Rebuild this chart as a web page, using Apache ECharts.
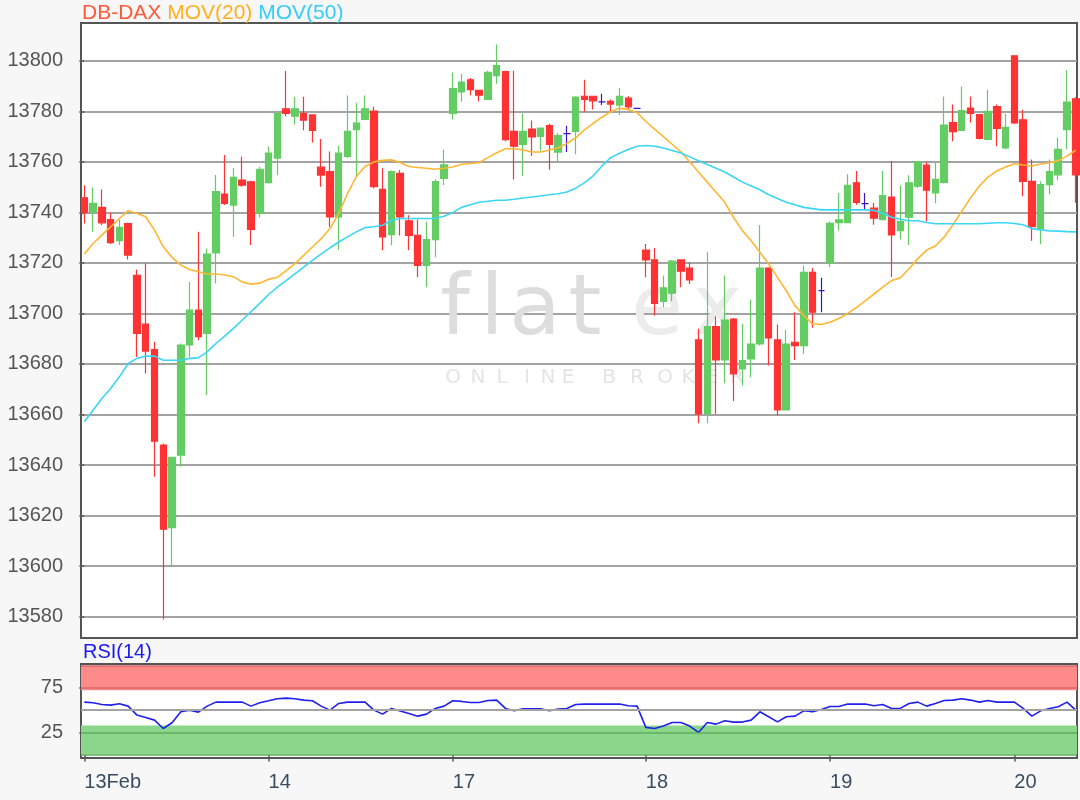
<!DOCTYPE html>
<html><head><meta charset="utf-8">
<script src="https://cdn.jsdelivr.net/npm/echarts@6.0.0/dist/echarts.min.js"></script>
<style>html,body{margin:0;padding:0;background:#f7f7f7}#c{width:1080px;height:800px}</style>
</head><body><div id="c"></div>
<script>
// ---- data ----
const dayLabels = ['13Feb','14','17','18','19','20'];
const dayStart  = [0, 21, 42, 64, 85, 106];
const priceTicks = [13580,13600,13620,13640,13660,13680,13700,13720,13740,13760,13780,13800];
const rsiTicks = [25, 75];

const opens = [13745.8,13740.3,13742.0,13737.2,13728.8,13735.6,13715.1,13695.8,13685.7,13647.9,
13615.2,13643.9,13687.5,13701.3,13692.1,13724.0,13747.3,13742.9,13752.8,13752.1,
13739.6,13751.8,13761.5,13781.0,13778.1,13779.2,13778.6,13757.9,13756.2,13738.2,
13762.2,13772.8,13776.8,13780.1,13749.1,13731.2,13755.5,13736.7,13730.9,13719.0,
13729.2,13753.5,13779.2,13787.7,13792.5,13788.3,13784.8,13794.2,13795.8,13772.1,
13766.9,13773.0,13770.1,13774.4,13763.9,13771.2,13772.1,13786.0,13786.0,13783.8,
13784.0,13782.5,13785.3,13781.2,13725.1,13721.2,13704.8,13708.0,13721.2,13718.0,
13689.5,13660.2,13694.8,13681.6,13697.8,13678.0,13682.0,13687.9,13718.0,13689.5,
13661.8,13688.6,13687.3,13716.3,13709.0,13720.0,13736.0,13736.0,13751.7,13743.5,
13741.7,13737.1,13746.1,13732.8,13738.1,13750.4,13758.7,13747.7,13751.9,13775.6,
13772.5,13781.3,13778.7,13768.9,13781.9,13765.5,13802.0,13776.7,13752.3,13733.6,
13751.0,13754.9,13772.8,13785.0];
const closes = [13740.0,13743.6,13735.9,13728.0,13734.1,13723.1,13692.1,13685.1,13649.4,13614.6,
13643.0,13687.5,13701.3,13690.8,13723.5,13748.2,13743.6,13753.9,13750.8,13733.3,
13757.1,13763.5,13779.2,13779.2,13781.0,13776.5,13772.5,13754.8,13738.2,13763.5,
13772.1,13775.4,13781.0,13750.2,13730.3,13756.2,13738.2,13730.9,13719.0,13729.2,
13752.2,13758.8,13789.0,13791.6,13788.6,13786.4,13795.5,13798.1,13768.8,13766.2,
13772.1,13769.9,13773.4,13766.9,13770.4,13771.2,13785.7,13784.8,13784.2,13783.8,
13782.9,13786.0,13781.8,13781.2,13721.2,13704.0,13710.1,13720.7,13716.7,13713.3,
13660.2,13694.8,13681.6,13697.4,13676.1,13681.3,13687.9,13718.0,13690.3,13661.8,
13687.9,13687.3,13716.3,13700.5,13709.0,13735.7,13737.1,13750.7,13744.0,13743.5,
13737.7,13746.7,13731.1,13736.4,13751.7,13760.0,13748.8,13753.1,13774.6,13772.0,
13780.3,13779.2,13769.3,13780.0,13773.3,13773.7,13775.4,13752.3,13734.4,13751.0,
13756.2,13765.0,13783.7,13754.9];
const lows = [13735.6,13732.3,13735.0,13727.5,13727.1,13721.4,13682.8,13676.2,13635.3,13578.8,
13599.7,13639.3,13682.8,13689.4,13667.7,13711.9,13742.9,13730.4,13750.2,13727.1,
13738.0,13751.5,13754.8,13778.1,13774.8,13772.5,13767.7,13750.2,13734.3,13725.2,
13761.5,13754.4,13776.8,13749.5,13725.0,13727.0,13730.9,13725.0,13714.3,13710.4,
13722.3,13750.9,13776.8,13783.8,13786.4,13784.0,13784.8,13790.9,13768.2,13753.0,
13754.5,13762.3,13764.3,13756.9,13760.0,13763.9,13763.0,13779.9,13780.8,13782.5,
13779.9,13778.6,13780.5,13781.2,13714.3,13699.2,13702.5,13704.8,13710.4,13711.7,
13656.5,13656.5,13660.2,13672.4,13665.3,13671.5,13674.7,13687.3,13679.4,13659.6,
13661.8,13681.6,13684.0,13694.3,13700.5,13718.4,13732.8,13736.0,13743.0,13741.1,
13735.1,13737.1,13714.4,13729.3,13727.1,13749.7,13736.4,13743.6,13751.5,13768.2,
13772.2,13775.6,13768.9,13768.5,13766.2,13765.0,13775.0,13746.4,13728.8,13727.5,
13747.1,13752.7,13765.0,13743.8];
const highs = [13750.8,13749.9,13749.1,13739.9,13737.2,13735.9,13717.4,13719.8,13688.8,13648.5,
13643.2,13688.1,13712.5,13732.3,13725.7,13754.8,13762.7,13757.6,13762.0,13752.5,
13758.0,13766.1,13779.4,13796.0,13785.8,13785.8,13778.6,13769.1,13764.1,13766.4,
13786.3,13783.4,13786.3,13781.8,13757.5,13756.6,13756.8,13738.9,13737.2,13736.3,
13753.1,13764.8,13795.4,13794.8,13793.2,13788.3,13796.1,13806.5,13796.1,13796.1,
13779.2,13776.4,13773.6,13775.1,13771.4,13774.3,13786.0,13792.5,13786.0,13787.0,
13784.7,13789.4,13786.0,13781.2,13727.5,13725.9,13715.0,13721.2,13721.2,13720.3,
13693.9,13724.2,13698.8,13715.0,13698.2,13695.9,13705.4,13735.0,13718.3,13695.6,
13693.5,13700.5,13718.9,13718.0,13714.1,13736.4,13747.7,13755.1,13756.4,13747.7,
13743.7,13756.4,13760.4,13750.7,13754.7,13760.3,13760.0,13760.0,13785.9,13782.7,
13789.9,13785.9,13779.0,13788.6,13782.7,13779.1,13802.0,13780.7,13761.0,13752.3,
13761.0,13769.7,13796.3,13785.6];

const ma20 = [13723.5,13727.7,13731.0,13734.3,13737.6,13740.7,13739.6,13738.3,13733.0,13726.4,
13722.2,13719.1,13717.4,13716.5,13715.6,13715.6,13715.2,13714.5,13712.5,13711.6,
13712.0,13713.5,13714.3,13717.0,13719.7,13723.0,13726.3,13729.6,13733.6,13739.6,
13747.5,13754.2,13758.2,13760.0,13760.6,13760.8,13759.8,13758.2,13757.8,13757.5,
13757.1,13757.5,13758.0,13759.1,13759.4,13759.7,13761.7,13763.6,13765.2,13765.2,
13764.7,13763.9,13763.9,13764.7,13765.6,13767.3,13769.5,13772.7,13775.3,13777.7,
13779.9,13781.2,13780.8,13779.5,13776.0,13773.0,13770.0,13767.0,13764.0,13760.0,
13756.0,13752.0,13748.0,13744.0,13738.0,13732.8,13728.8,13724.2,13719.6,13714.3,
13709.0,13703.1,13699.2,13695.9,13695.6,13696.5,13698.0,13700.0,13702.3,13705.0,
13707.7,13710.4,13713.0,13714.1,13717.7,13721.7,13725.1,13726.7,13730.2,13735.1,
13740.4,13745.7,13750.4,13754.0,13756.4,13758.0,13759.3,13758.8,13758.4,13759.2,
13759.7,13760.5,13762.3,13764.7];
const ma50 = [13657.1,13661.7,13666.3,13670.3,13674.9,13680.2,13682.2,13683.1,13683.1,13681.5,
13681.5,13681.5,13682.2,13682.4,13684.8,13688.1,13691.0,13694.1,13697.4,13700.7,
13704.0,13707.5,13710.4,13713.0,13715.7,13718.3,13721.0,13723.6,13726.0,13728.3,
13730.3,13732.3,13734.0,13734.3,13734.9,13736.9,13737.6,13737.6,13737.6,13737.6,
13737.6,13738.5,13740.0,13742.0,13743.0,13744.0,13744.4,13744.8,13744.8,13745.2,
13745.7,13746.1,13746.5,13747.0,13747.4,13748.1,13749.6,13751.7,13754.5,13758.4,
13761.7,13763.4,13764.9,13766.2,13766.5,13766.2,13765.5,13764.5,13763.5,13762.0,
13760.5,13759.0,13757.5,13756.0,13754.0,13752.0,13750.5,13749.0,13747.0,13745.5,
13744.0,13743.0,13742.0,13741.5,13741.0,13741.0,13741.0,13741.0,13741.0,13741.0,
13740.8,13739.7,13738.1,13737.3,13736.7,13736.7,13736.0,13735.5,13735.5,13735.5,
13735.5,13735.5,13735.5,13735.7,13735.9,13735.9,13735.6,13735.1,13733.6,13733.1,
13732.7,13732.6,13732.4,13732.3];
const rsi = [59,58.3,56.4,55.6,57.1,54.5,44.4,41.7,38.7,29.3,
35.7,48.1,50,47.7,54.5,59,59,59,59,54.5,
58.3,60.5,62.8,63.5,62.8,61.3,60.5,54.5,50,57.5,
59,59,59,50,45.5,51.9,48.9,46.2,43.2,45.5,
51.9,54.5,60.5,59.8,58.6,58.6,60.9,61.3,51.9,49.2,
51.5,51.5,51.5,49.2,51.1,51.9,56.4,56.8,56.8,56.8,
56.8,56.8,54.9,54.5,30.5,29.3,32,36.1,36.1,32,
24.8,36.1,34.2,38,36.5,36.5,38.7,48.1,42.5,36.8,
42.5,43.2,49.2,48.1,50.8,54.1,54.1,56.8,56.8,56.8,
54.9,56.4,51.9,51.9,57.5,59,54.5,57.5,60.9,61.3,
62.8,61.3,59,60.9,59,59,59,51.9,43.2,49.2,
51.9,53.8,59,50];

// ---- build ----
const candles = opens.map((o, i) => [i, o, closes[i], lows[i], highs[i]]);
const ma20Data = ma20.map((v, i) => [i, v]);
const ma50Data = ma50.map((v, i) => [i, v]);
const rsiData = rsi.map((v, i) => [i, v]);
const N = opens.length;
const xMin = -0.376, xMax = N - 1 + 0.14;

const chart = echarts.init(document.getElementById('c'), null, {renderer: 'canvas'});

const wmFlat = [['f',455],['l',492],['a',535],['t',585]];
const wmEx = [['e',657],['x',717]];
const wmSub = [['O',453],['N',478],['L',502],['I',527],['N',548],['E',568],['B',609],['R',637],['O',665],['K',688],['E',712],['R',737]];
const graphics = [];
wmFlat.forEach(([t, x]) => graphics.push({type:'text', z: 1, silent: true, style:{text:t, x:x, y:312, fill:'#dddddd', font:'84px "DejaVu Sans"', textAlign:'center', textVerticalAlign:'middle'}}));
wmEx.forEach(([t, x]) => graphics.push({type:'text', z: 1, silent: true, style:{text:t, x:x, y:312, fill:'#ececec', font:'84px "DejaVu Sans"', textAlign:'center', textVerticalAlign:'middle'}}));
wmSub.forEach(([t, x]) => graphics.push({type:'text', z: 1, silent: true, style:{text:t, x:x, y:378, fill:'#e4e4e4', font:'20px "DejaVu Sans"', textAlign:'center', textVerticalAlign:'middle'}}));

const option = {
  backgroundColor: '#f7f7f7',
  animation: false,
  textStyle: {fontFamily: '"Liberation Sans", Arial, sans-serif'},
  title: [
    {left: 82, top: 3, padding: 0,
     text: '{a|DB-DAX} {b|MOV(20)} {c|MOV(50)}',
     textStyle: {fontSize: 21, fontWeight: 'normal', color: '#ffb020',
       rich: {a: {color: '#ff5a38', fontSize: 21}, b: {color: '#ffb020', fontSize: 21}, c: {color: '#35cdf5', fontSize: 21}}}},
    {left: 83, top: 642, padding: 0, text: 'RSI(14)',
     textStyle: {fontSize: 20, fontWeight: 'normal', color: '#1a1aee'}}
  ],
  grid: [
    {left: 81, top: 23, right: 3, height: 615, show: true, backgroundColor: '#ffffff', borderColor: '#555555', borderWidth: 2},
    {left: 81, top: 664, right: 3, height: 94, show: true, backgroundColor: '#ffffff', borderColor: '#555555', borderWidth: 2}
  ],
  xAxis: [
    {type: 'value', gridIndex: 0, min: xMin, max: xMax, show: false},
    {type: 'value', gridIndex: 1, min: xMin, max: xMax,
     axisLine: {show: false}, splitLine: {show: false},
     axisTick: {show: true, customValues: dayStart, length: 7, lineStyle: {color: '#555', width: 1.5}},
     axisLabel: {customValues: dayStart, formatter: v => dayLabels[dayStart.indexOf(v)],
       align: 'left', margin: 14, color: '#3a4d63', fontSize: 20}}
  ],
  yAxis: [
    {type: 'value', gridIndex: 0, min: 13571.5, max: 13815,
     axisLine: {show: false},
     axisTick: {show: true, customValues: priceTicks, length: 5, lineStyle: {color: '#555', width: 1.5}},
     axisLabel: {customValues: priceTicks, formatter: v => String(v), margin: 18, color: '#555', fontSize: 20},
     splitLine: {show: true, lineStyle: {color: '#a3a3a3', width: 2}}},
    {type: 'value', gridIndex: 1, min: -4, max: 102,
     axisLine: {show: false},
     axisTick: {show: true, customValues: rsiTicks, length: 5, lineStyle: {color: '#555', width: 1.5}},
     axisLabel: {customValues: rsiTicks, formatter: v => String(v), margin: 18, color: '#555', fontSize: 20},
     splitLine: {show: false}}
  ],
  graphic: graphics,
  series: [
    {type: 'candlestick', xAxisIndex: 0, yAxisIndex: 0, data: candles,
     encode: {x: 0, y: [1, 2, 3, 4]}, barWidth: 7, clip: true, z: 3,
     itemStyle: {color: '#63cd63', color0: '#ff3333', borderColor: '#63cd63', borderColor0: '#ff3333',
       borderColorDoji: '#3a14c8', borderWidth: 1.2}},
    {type: 'line', name: 'MOV(20)', xAxisIndex: 0, yAxisIndex: 0, data: ma20Data, showSymbol: false, symbol: 'none',
     z: 4, lineStyle: {color: '#ffb733', width: 1.6}},
    {type: 'line', name: 'MOV(50)', xAxisIndex: 0, yAxisIndex: 0, data: ma50Data, showSymbol: false, symbol: 'none',
     z: 4, lineStyle: {color: '#3cd6f5', width: 1.6}},
    {type: 'line', name: 'RSI(14)', xAxisIndex: 1, yAxisIndex: 1, data: rsiData, showSymbol: false, symbol: 'none',
     z: 4, lineStyle: {color: '#1f1fee', width: 1.6},
     markArea: {silent: true, label: {show: false},
       data: [
         [{yAxis: 72.3, itemStyle: {color: '#ff8a8a'}}, {yAxis: 100}],
         [{yAxis: 0, itemStyle: {color: '#8ad78a'}}, {yAxis: 32.7}]
       ]},
     markLine: {silent: true, symbol: 'none', label: {show: false},
       data: [
         {yAxis: 100, lineStyle: {color: '#d96a6a', width: 1.5, type: 'solid'}},
         {yAxis: 75, lineStyle: {color: '#d96a6a', width: 1.5, type: 'solid'}},
         {yAxis: 50, lineStyle: {color: '#a3a3a3', width: 2, type: 'solid'}},
         {yAxis: 25, lineStyle: {color: '#5fae5f', width: 1.5, type: 'solid'}},
         {yAxis: 0, lineStyle: {color: '#5fae5f', width: 1.5, type: 'solid'}}
       ]}}
  ]
};
chart.setOption(option);
</script>
</body></html>
